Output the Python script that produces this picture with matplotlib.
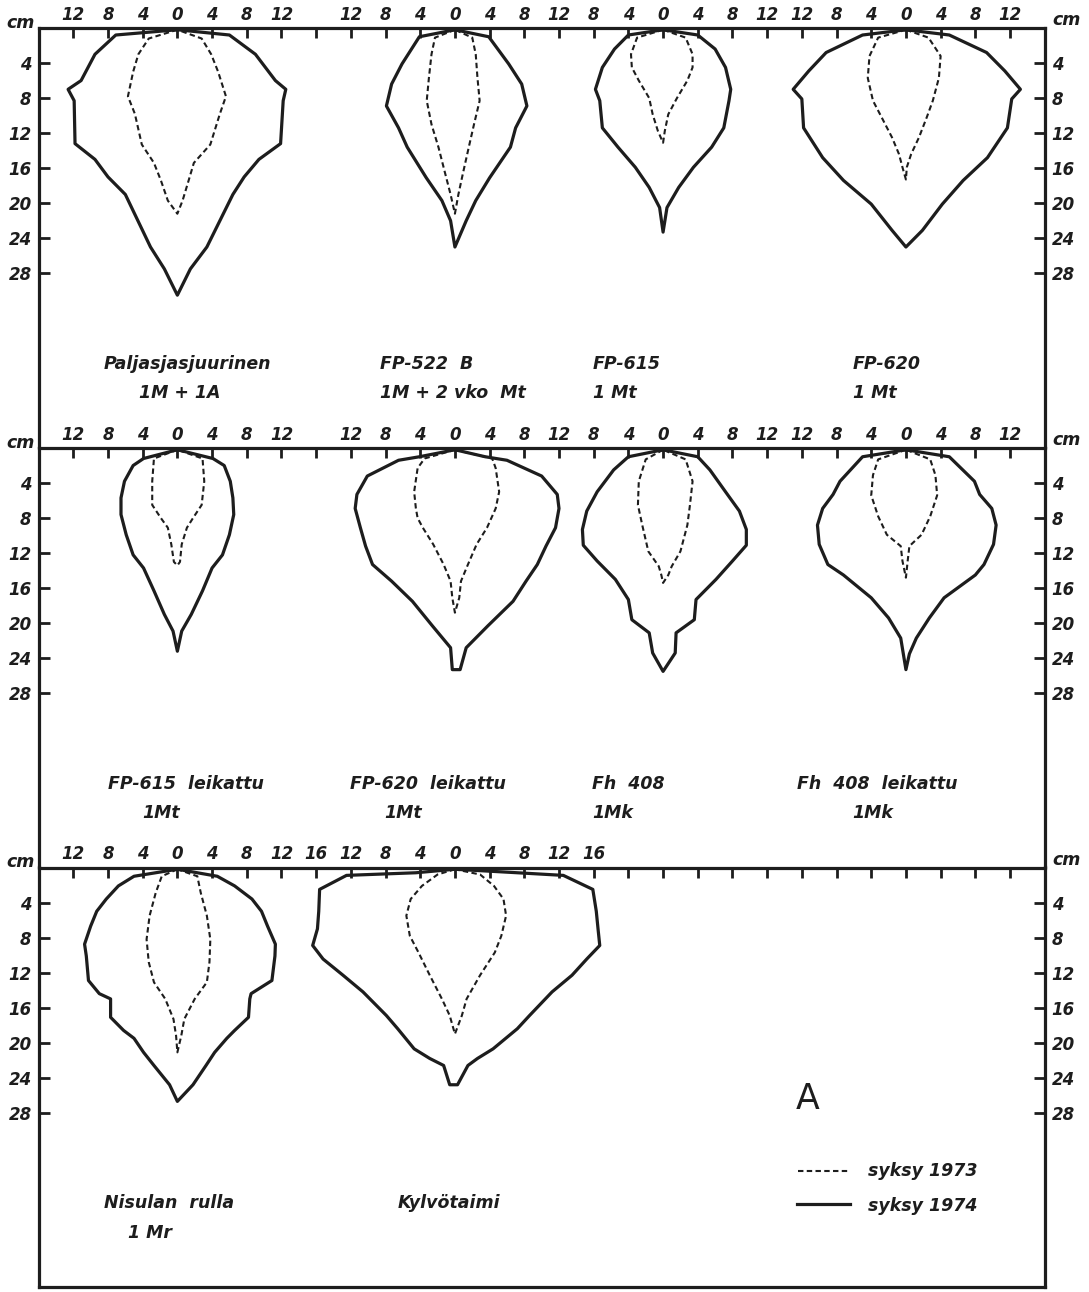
import matplotlib.pyplot as plt
import numpy as np

plt.rcParams['font.family'] = ['DejaVu Sans']

# ---- data: root system outlines, half-widths (cm) left/right of the stem at given depths (cm)
# panel 1
pal_depth_74 = [0.2, 0.8, 3.0, 6.0, 7.0, 8.3, 13.2, 15.0, 17.0, 19.0, 25.0, 27.5, 30.5]
pal_left_74 = [0, 7.1, 9.5, 11.1, 12.6, 11.9, 11.8, 9.5, 8.0, 6.0, 3.1, 1.5, 0]
pal_right_74 = [0, 6.0, 9.0, 11.3, 12.5, 12.2, 11.9, 9.4, 7.7, 6.4, 3.4, 1.5, 0]
pal_depth_73 = [0.2, 1.2, 3.0, 5.0, 7.8, 9.8, 13.3, 15.4, 17.4, 19.7, 21.2]
pal_left_73 = [0, 3.3, 4.5, 5.1, 5.7, 4.9, 4.1, 2.7, 1.9, 1.1, 0]
pal_right_73 = [0, 2.8, 3.9, 4.7, 5.6, 4.9, 3.8, 1.9, 1.3, 0.6, 0]

fp522_depth_74 = [0.2, 1.0, 4.1, 6.4, 8.9, 11.4, 13.6, 17.1, 19.7, 22.0, 25.0]
fp522_left_74 = [0, 4.1, 6.1, 7.3, 7.9, 6.5, 5.5, 3.3, 1.5, 0.5, 0]
fp522_right_74 = [0, 3.9, 6.2, 7.7, 8.3, 7.0, 6.4, 4.0, 2.4, 1.3, 0]
fp522_depth_73 = [0.2, 1.1, 3.0, 5.7, 8.3, 11.0, 13.6, 16.7, 19.0, 21.2]
fp522_left_73 = [0, 2.3, 2.7, 3.0, 3.25, 2.7, 1.9, 1.1, 0.5, 0]
fp522_right_73 = [0, 2.0, 2.4, 2.6, 2.85, 2.2, 1.6, 0.9, 0.4, 0]

fp615_depth_74 = [0.2, 0.8, 2.4, 4.5, 7.0, 8.3, 11.4, 13.6, 15.9, 18.2, 20.5, 23.3]
fp615_left_74 = [0, 4.0, 5.6, 7.0, 7.8, 7.3, 7.0, 5.2, 3.2, 1.6, 0.4, 0]
fp615_right_74 = [0, 4.0, 6.0, 7.2, 7.8, 7.6, 7.0, 5.6, 3.5, 1.8, 0.45, 0]
fp615_depth_73 = [0.2, 1.1, 3.0, 4.5, 6.0, 8.0, 9.85, 11.75, 13.1]
fp615_left_73 = [0, 3.0, 3.7, 3.6, 2.8, 1.6, 1.2, 0.6, 0]
fp615_right_73 = [0, 2.6, 3.4, 3.4, 2.8, 1.6, 0.6, 0.2, 0]

fp620_depth_74 = [0.2, 0.8, 2.8, 4.9, 7.0, 8.1, 11.4, 14.8, 17.4, 20.1, 23.1, 25.0]
fp620_left_74 = [0, 5.0, 9.2, 11.2, 13.0, 12.0, 11.8, 9.6, 7.2, 4.0, 1.6, 0]
fp620_right_74 = [0, 5.0, 9.3, 11.4, 13.2, 12.2, 11.7, 9.4, 6.6, 4.2, 1.9, 0]
fp620_depth_73 = [0.2, 1.1, 3.2, 5.7, 8.3, 10.2, 12.5, 14.4, 15.9, 17.3]
fp620_left_73 = [0, 3.2, 4.2, 4.4, 3.8, 2.8, 1.6, 0.8, 0.4, 0]
fp620_right_73 = [0, 2.6, 4.0, 3.8, 3.1, 2.4, 1.5, 0.6, 0.1, 0]

# panel 2
fp615l_depth_74 = [0.2, 1.2, 2.0, 3.8, 5.7, 7.6, 9.9, 12.2, 13.7, 16.3, 19.0, 20.9, 23.2]
fp615l_left_74 = [0, 3.9, 5.1, 6.1, 6.5, 6.5, 5.9, 5.1, 3.9, 2.7, 1.5, 0.5, 0]
fp615l_right_74 = [0, 4.1, 5.4, 6.1, 6.4, 6.5, 6.0, 5.2, 4.0, 2.9, 1.6, 0.5, 0]
fp615l_depth_73 = [0.2, 1.2, 3.8, 6.5, 8.0, 9.1, 11.0, 13.0, 13.4]
fp615l_left_73 = [0, 2.7, 2.9, 2.9, 1.9, 1.1, 0.7, 0.4, 0]
fp615l_right_73 = [0, 2.9, 3.1, 2.8, 1.8, 1.1, 0.5, 0.3, 0]

fp620l_depth_74 = [0.2, 1.0, 1.4, 3.2, 5.3, 6.9, 9.1, 11.2, 13.3, 15.2, 17.5, 20.3, 22.8, 25.3]
fp620l_left_74 = [0, 4.1, 6.5, 10.1, 11.3, 11.5, 10.9, 10.3, 9.5, 7.3, 4.9, 2.6, 0.5, 0.3]
fp620l_right_74 = [0, 3.5, 6.0, 10.0, 11.8, 12.0, 11.6, 10.5, 9.5, 8.2, 6.7, 3.8, 1.3, 0.6]
fp620l_depth_73 = [0.2, 1.2, 2.3, 5.0, 6.9, 8.0, 9.1, 11.0, 13.3, 15.2, 17.1, 18.8]
fp620l_left_73 = [0, 3.5, 4.3, 4.7, 4.5, 4.3, 3.7, 2.5, 1.3, 0.5, 0.3, 0]
fp620l_right_73 = [0, 4.3, 4.7, 5.1, 4.7, 4.2, 3.7, 2.5, 1.5, 0.7, 0.5, 0]

fh408_depth_74 = [0.2, 1.0, 2.5, 5.0, 7.2, 9.3, 11.1, 12.9, 15.0, 17.3, 19.6, 21.1, 23.4, 25.5]
fh408_left_74 = [0, 4.0, 5.7, 7.6, 8.8, 9.3, 9.2, 7.6, 5.5, 4.0, 3.6, 1.6, 1.2, 0]
fh408_right_74 = [0, 4.0, 5.4, 7.2, 8.8, 9.6, 9.6, 8.0, 6.1, 3.8, 3.6, 1.5, 1.4, 0]
fh408_depth_73 = [0.2, 1.3, 3.8, 6.5, 8.8, 11.8, 13.5, 14.5, 15.4]
fh408_left_73 = [0, 2.0, 2.8, 2.9, 2.4, 1.7, 0.5, 0.2, 0]
fh408_right_73 = [0, 2.6, 3.4, 3.1, 2.8, 2.0, 1.0, 0.6, 0]

fh408l_depth_74 = [0.2, 1.0, 3.8, 5.3, 6.9, 8.8, 11.0, 13.3, 14.5, 17.1, 19.4, 21.7, 23.5, 25.3]
fh408l_left_74 = [0, 5.0, 7.6, 8.4, 9.6, 10.2, 10.0, 9.0, 7.2, 4.0, 2.0, 0.6, 0.3, 0]
fh408l_right_74 = [0, 5.0, 7.9, 8.5, 9.9, 10.4, 10.1, 9.0, 8.0, 4.4, 2.7, 1.2, 0.4, 0]
fh408l_depth_73 = [0.2, 1.3, 3.1, 5.4, 7.8, 9.9, 11.2, 12.9, 14.8]
fh408l_left_73 = [0, 3.2, 3.8, 4.0, 3.2, 2.2, 0.6, 0.4, 0]
fh408l_right_73 = [0, 2.8, 3.4, 3.6, 2.8, 1.8, 0.4, 0.2, 0]

# panel 3
nis_depth_74 = [0.2, 1.0, 2.1, 3.6, 5.0, 6.7, 8.75, 10.1, 12.9, 14.4, 15.0, 17.1, 18.6, 19.5, 21.1, 22.6, 24.8, 26.7]
nis_left_74 = [0, 5.0, 6.8, 8.2, 9.3, 10.0, 10.7, 10.5, 10.25, 9.0, 7.7, 7.7, 6.2, 5.0, 3.9, 2.7, 0.9, 0]
nis_right_74 = [0, 4.6, 6.6, 8.6, 9.7, 10.4, 11.3, 11.25, 10.9, 8.5, 8.35, 8.2, 6.6, 5.7, 4.3, 3.3, 1.8, 0]
nis_depth_73 = [0.2, 1.0, 2.9, 5.5, 8.2, 10.8, 13.1, 15.0, 17.3, 19.2, 21.1]
nis_left_73 = [0, 1.8, 2.5, 3.2, 3.55, 3.3, 2.7, 1.4, 0.45, 0.15, 0]
nis_right_73 = [0, 2.3, 2.7, 3.4, 3.8, 3.7, 3.4, 2.0, 0.8, 0.45, 0]

kyl_depth_74 = [0.2, 0.6, 0.9, 2.5, 5.0, 7.0, 8.9, 10.45, 12.3, 14.2, 16.9, 18.4, 20.7, 21.8, 22.6, 24.8]
kyl_left_74 = [0, 4.5, 12.5, 15.6, 15.7, 15.85, 16.4, 15.2, 12.9, 10.6, 7.9, 6.6, 4.7, 2.9, 1.3, 0.6]
kyl_right_74 = [0, 7.2, 12.5, 15.9, 16.3, 16.5, 16.7, 15.2, 13.5, 11.2, 8.6, 7.2, 4.4, 2.6, 1.5, 0.3]
kyl_depth_73 = [0.2, 0.8, 2.1, 3.6, 5.5, 7.8, 9.7, 12.3, 15.0, 16.9, 19.0]
kyl_left_73 = [0, 2.0, 3.8, 5.1, 5.6, 5.2, 4.2, 2.9, 1.5, 0.6, 0]
kyl_right_73 = [0, 2.9, 4.5, 5.6, 5.9, 5.35, 4.6, 2.9, 1.35, 0.8, 0]

# profile names / treatments per panel
names = [["Paljasjasjuurinen", "FP-522  B", "FP-615", "FP-620"],
         ["FP-615  leikattu", "FP-620  leikattu", "Fh  408", "Fh  408  leikattu"],
         ["Nisulan  rulla", "Kylvötaimi"]]
subs = [["1M + 1A", "1M + 2 vko  Mt", "1 Mt", "1 Mt"],
        ["1Mt", "1Mt", "1Mk", "1Mk"],
        ["1 Mr", ""]]

# top scale tick labels (every 4 cm along the frame)
top_labels_12 = ['12', '8', '4', '0', '4', '8', '12', '',
                 '12', '8', '4', '0', '4', '8', '12',
                 '8', '4', '0', '4', '8', '12',
                 '12', '8', '4', '0', '4', '8', '12']
top_labels_3 = ['12', '8', '4', '0', '4', '8', '12', '16',
                '12', '8', '4', '0', '4', '8', '12', '16'] + [''] * 12
depth_ticks = [4, 8, 12, 16, 20, 24, 28]

# ---- layout (frame 116 cm wide, panels ~47.8 cm deep)
centres = [[16, 48, 72, 100], [16, 48, 72, 100], [16, 48]]
profiles = [
    [(pal_depth_74, pal_left_74, pal_right_74, pal_depth_73, pal_left_73, pal_right_73),
     (fp522_depth_74, fp522_left_74, fp522_right_74, fp522_depth_73, fp522_left_73, fp522_right_73),
     (fp615_depth_74, fp615_left_74, fp615_right_74, fp615_depth_73, fp615_left_73, fp615_right_73),
     (fp620_depth_74, fp620_left_74, fp620_right_74, fp620_depth_73, fp620_left_73, fp620_right_73)],
    [(fp615l_depth_74, fp615l_left_74, fp615l_right_74, fp615l_depth_73, fp615l_left_73, fp615l_right_73),
     (fp620l_depth_74, fp620l_left_74, fp620l_right_74, fp620l_depth_73, fp620l_left_73, fp620l_right_73),
     (fh408_depth_74, fh408_left_74, fh408_right_74, fh408_depth_73, fh408_left_73, fh408_right_73),
     (fh408l_depth_74, fh408l_left_74, fh408l_right_74, fh408l_depth_73, fh408l_left_73, fh408l_right_73)],
    [(nis_depth_74, nis_left_74, nis_right_74, nis_depth_73, nis_left_73, nis_right_73),
     (kyl_depth_74, kyl_left_74, kyl_right_74, kyl_depth_73, kyl_left_73, kyl_right_73)],
]
name_x = [[7.5, 39.4, 63.9, 93.9], [8.0, 35.9, 63.8, 87.4], [7.5, 41.4]]
sub_x = [[11.6, 39.4, 63.9, 93.9], [11.9, 39.9, 63.8, 93.8], [10.3, 41.4]]

INK = '#1d1d1d'
W, H = 1089, 1292
DEPTH_MAX = 47.83


def outline(ax, c, depth, left, right, **kw):
    depth = np.asarray(depth, float)
    x = np.concatenate([c - np.asarray(left, float), (c + np.asarray(right, float))[::-1]])
    y = np.concatenate([depth, depth[::-1]])
    ax.plot(x, y, color=INK, **kw)


fig = plt.figure(figsize=(W / 100, H / 100), dpi=100)
fig.patch.set_facecolor('white')

tops = [28, 448, 867.5]
txt = dict(fontsize=12.5, fontweight='bold', fontstyle='italic', color=INK)

for i, top in enumerate(tops):
    ax = fig.add_axes([38.6 / W, 1 - (top + 419) / H, 1006.1 / W, 419 / H])
    ax.set_xlim(0, 116)
    ax.set_ylim(DEPTH_MAX, 0)
    for s in ['top', 'left', 'right', 'bottom']:
        ax.spines[s].set_linewidth(2.3)
        ax.spines[s].set_color(INK)
    ax.spines['bottom'].set_visible(i == 2)
    ax.patch.set_visible(False)

    ax.xaxis.tick_top()
    ax.set_xticks(np.arange(4, 113, 4))
    ax.set_xticklabels(top_labels_3 if i == 2 else top_labels_12,
                       fontsize=12, fontweight='bold', fontstyle='italic')
    ax.tick_params(axis='x', direction='in', length=7, width=2, pad=3,
                   colors=INK, top=True, bottom=False, labeltop=True, labelbottom=False)
    ax.set_yticks(depth_ticks)
    ax.set_yticklabels([str(d) for d in depth_ticks],
                       fontsize=12, fontweight='bold', fontstyle='italic')
    ax.tick_params(axis='y', direction='in', length=8, width=2, pad=5, colors=INK,
                   left=True, right=True, labelleft=True, labelright=True)

    ax.text(-0.0175, 1.012, 'cm', transform=ax.transAxes, ha='center', va='center', **txt)
    ax.text(1.022, 1.018, 'cm', transform=ax.transAxes, ha='center', va='center', **txt)

    for j, c in enumerate(centres[i]):
        d74, l74, r74, d73, l73, r73 = profiles[i][j]
        outline(ax, c, d74, l74, r74, lw=2.3, solid_joinstyle='round')
        outline(ax, c, d73, l73, r73, lw=1.5, linestyle=(0, (2.6, 1.6)))
        ax.text(name_x[i][j], 38.3, names[i][j], ha='left', va='center', **txt)
        if subs[i][j]:
            ax.text(sub_x[i][j], 41.7, subs[i][j], ha='left', va='center', **txt)

    if i == 2:
        ax.text(87.3, 26.4, 'A', ha='left', va='center', fontsize=25, color=INK)
        ax.plot([87.5, 93.6], [34.6, 34.6], color=INK, lw=1.5, linestyle=(0, (2.6, 1.6)))
        ax.plot([87.4, 93.6], [38.4, 38.4], color=INK, lw=2.3)
        ax.text(95.6, 34.7, 'syksy 1973', ha='left', va='center', **txt)
        ax.text(95.6, 38.6, 'syksy 1974', ha='left', va='center', **txt)

fig.savefig('out.png', dpi=100, facecolor='white')
